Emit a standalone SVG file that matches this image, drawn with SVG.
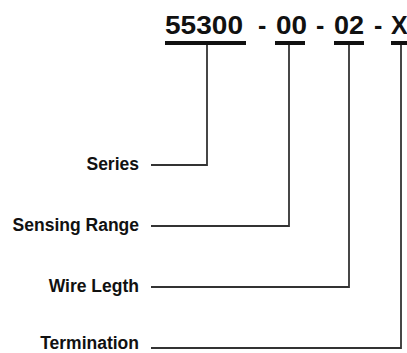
<svg xmlns="http://www.w3.org/2000/svg" width="407" height="353" viewBox="0 0 407 353">
<style>
.code{font-family:"Liberation Sans",Arial,sans-serif;font-weight:bold;font-size:25px;fill:#111}
.lbl{font-family:"Liberation Sans",Arial,sans-serif;font-weight:bold;font-size:17.5px;fill:#111;text-anchor:end}
.bar{fill:#111}
.conn{fill:none;stroke:#333;stroke-width:1.8}
</style>
<rect width="407" height="353" fill="#fff"/>
<g id="code">
<text class="code" x="165" y="34" textLength="78" lengthAdjust="spacingAndGlyphs">55300</text>
<text class="code" x="258" y="34">-</text>
<text class="code" x="276" y="34" textLength="31" lengthAdjust="spacingAndGlyphs">00</text>
<text class="code" x="316" y="34">-</text>
<text class="code" x="334" y="34" textLength="30" lengthAdjust="spacingAndGlyphs">02</text>
<text class="code" x="374" y="34">-</text>
<text class="code" x="391" y="34">X</text>
<rect class="bar" x="165" y="41" width="81" height="4"/>
<rect class="bar" x="275" y="41" width="30" height="4"/>
<rect class="bar" x="334" y="41" width="30" height="4"/>
<rect class="bar" x="391" y="41" width="20" height="4"/>
</g>
<g id="series"><text class="lbl" x="139" y="170">Series</text></g>
<g id="sensing-range"><text class="lbl" x="139" y="231">Sensing Range</text></g>
<g id="wire-length"><text class="lbl" x="139" y="292">Wire Legth</text></g>
<g id="termination"><text class="lbl" x="139" y="349">Termination</text></g>
<g id="connectors">
<path class="conn" d="M151 165H207V45"/>
<path class="conn" d="M151 226H289V45"/>
<path class="conn" d="M151 287H349V45"/>
<path class="conn" d="M151 348H401V45"/>
</g>
</svg>
